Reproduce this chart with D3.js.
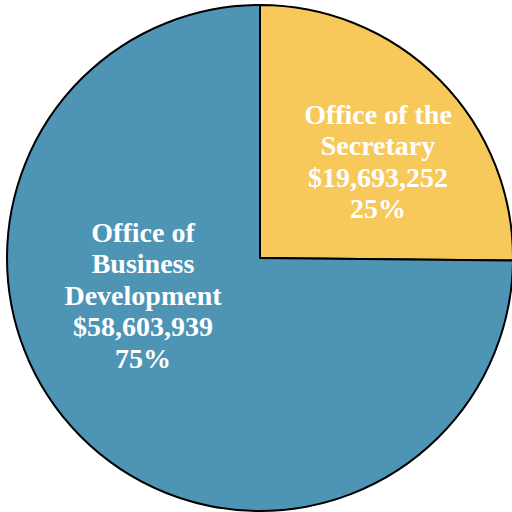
<!DOCTYPE html>
<html>
<head>
<meta charset="utf-8">
<script src="https://cdn.jsdelivr.net/npm/d3@7"></script>
<style>
  body { margin: 0; background: #fff; }
  svg { display: block; }
</style>
</head>
<body>
<svg id="pie" width="512" height="512"></svg>
<script>
// data
var offices = ["Office of the Secretary", "Office of Business Development"];
var amounts = [19693252, 58603939];
var percents = ["25%", "75%"];
var colors = ["#F7C95A", "#4E95B5"];
// label lines as they wrap in the picture
var labelLines = [
  ["Office of the", "Secretary"],
  ["Office of", "Business", "Development"]
];

var cx = 260, cy = 258, r = 253;
var svg = d3.select("#pie");
var g = svg.append("g").attr("transform", "translate(" + cx + "," + cy + ")");

var pie = d3.pie().sort(null).value(function (d) { return d; });
var arc = d3.arc().innerRadius(0).outerRadius(r);
var arcs = pie(amounts);

g.selectAll("path")
  .data(arcs)
  .enter().append("path")
  .attr("d", arc)
  .attr("fill", function (d, i) { return colors[i]; })
  .attr("stroke", "#000")
  .attr("stroke-width", 2)
  .attr("stroke-linejoin", "round");

var fmt = d3.format("$,");
var labelPos = [[118, -97], [-117, 37]];
var lineH = 31.5;

arcs.forEach(function (d, i) {
  var lines = labelLines[i].concat([fmt(amounts[i]), percents[i]]);
  var top = labelPos[i][1] - (lines.length - 1) * lineH / 2;
  var t = g.append("text")
    .attr("text-anchor", "middle")
    .attr("fill", "#fff")
    .style("font-family", "'Liberation Serif', serif")
    .style("font-weight", "bold")
    .style("font-size", "28px");
  lines.forEach(function (s, j) {
    t.append("tspan")
      .attr("x", labelPos[i][0])
      .attr("y", top + j * lineH)
      .attr("dy", "0.35em")
      .text(s);
  });
});
</script>
</body>
</html>
